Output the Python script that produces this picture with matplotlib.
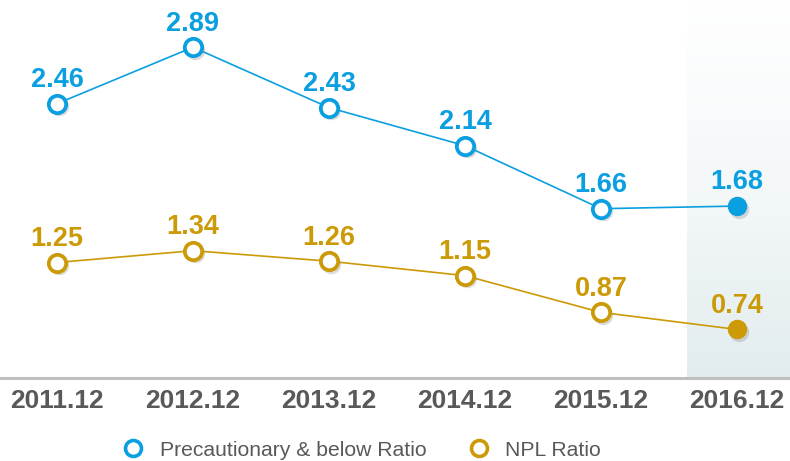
import numpy as np
import matplotlib
matplotlib.use("Agg")
import matplotlib.pyplot as plt
from matplotlib.colors import LinearSegmentedColormap
import matplotlib.transforms as mtrans

categories = ["2011.12", "2012.12", "2013.12", "2014.12", "2015.12", "2016.12"]
precautionary = [2.46, 2.89, 2.43, 2.14, 1.66, 1.68]
npl = [1.25, 1.34, 1.26, 1.15, 0.87, 0.74]

BLUE = "#0A9FE0"
GOLD = "#CC9A06"
GRAY = "#595959"

plt.rcParams['font.family'] = ['Liberation Sans', 'DejaVu Sans']

fig = plt.figure(figsize=(7.9, 4.61), dpi=100)
ax = fig.add_axes([0, 83 / 461, 1, 378 / 461])
x = np.arange(len(categories))

# highlighted band for last period
cmap = LinearSegmentedColormap.from_list("band", ["#e2ecee", "#f4f8f9", "#ffffff"])
grad = np.linspace(0, 1, 256).reshape(-1, 1)
ax.imshow(grad, extent=(4.63, 5.39, 0.37, 3.25), origin="lower", cmap=cmap,
          aspect="auto", zorder=0)
ax.set_ylim(0.37, 3.25)
ax.set_xlim(-0.419, 5.39)

shadow = mtrans.offset_copy(ax.transData, fig=fig, x=2.5, y=-2.5, units="dots")

for vals, col in [(precautionary, BLUE), (npl, GOLD)]:
    ax.plot(x, vals, color=col, lw=1.2, zorder=2)
    ax.plot(x, vals, 'o', ms=14, color="#888888", alpha=0.3, mew=0,
            transform=shadow, zorder=2)
    ax.plot(x[:-1], vals[:-1], 'o', ms=12.5, mfc="white", mec=col, mew=2.7, zorder=3)
    ax.plot(x[-1:], vals[-1:], 'o', ms=14, mfc=col, mec=col, mew=0, zorder=3)
    for xi, v in zip(x, vals):
        ax.annotate(f"{v:.2f}", (xi, v), xytext=(0, 17), textcoords="offset points",
                    ha="center", va="center", fontsize=19.5, fontweight="bold",
                    color=col, zorder=4)

for s in ["top", "right", "left"]:
    ax.spines[s].set_visible(False)
ax.spines["bottom"].set_color("#bfbfbf")
ax.spines["bottom"].set_linewidth(2.2)
ax.set_yticks([])
ax.set_xticks(x)
ax.set_xticklabels(categories, fontsize=19, fontweight="bold", color=GRAY)
ax.tick_params(axis="x", length=0, pad=8)

h1 = plt.Line2D([], [], marker='o', ls='none', ms=11.5, mfc="white", mec=BLUE, mew=2.6)
h2 = plt.Line2D([], [], marker='o', ls='none', ms=11.5, mfc="white", mec=GOLD, mew=2.6)
fig.legend([h1, h2], ["Precautionary & below Ratio", "NPL Ratio"], loc="center",
           bbox_to_anchor=(362 / 790, 1 - 450 / 461), ncol=2, frameon=False,
           fontsize=15.2, labelcolor=GRAY, handletextpad=0.75, columnspacing=2.0,
           handlelength=1.0)

fig.savefig("out.png", dpi=100)
